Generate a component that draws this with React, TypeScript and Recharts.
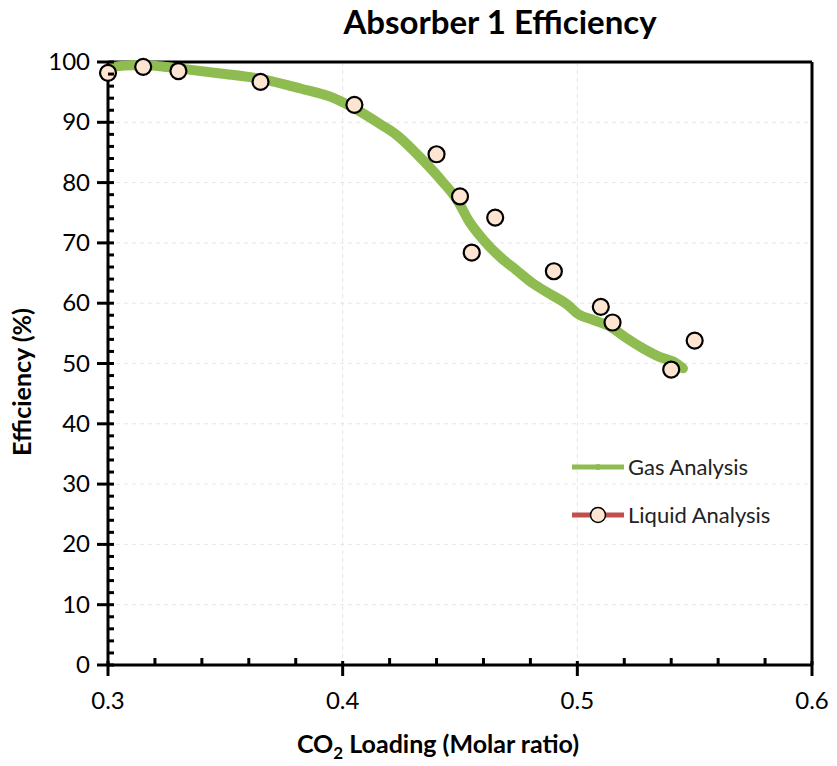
import React from "react";
import {
  ComposedChart,
  Line,
  Scatter,
  XAxis,
  YAxis,
  CartesianGrid,
  ReferenceLine,
} from "recharts";

const gasX = [0.301, 0.307, 0.315, 0.322, 0.331, 0.348, 0.365, 0.382, 0.395, 0.405, 0.416, 0.423, 0.432, 0.442, 0.449, 0.454, 0.46, 0.467, 0.474, 0.481, 0.488, 0.496, 0.5, 0.507, 0.514, 0.521, 0.528, 0.535, 0.541, 0.545];
const gasY = [99.1, 99.4, 99.5, 99.3, 98.9, 98.1, 97.2, 95.6, 94.2, 92.3, 89.7, 87.9, 84.6, 80.4, 77.0, 73.5, 70.5, 67.7, 65.5, 63.3, 61.6, 59.7, 58.3, 57.2, 56.1, 54.2, 52.5, 51.1, 50.3, 49.2];

const liquidX = [0.3, 0.315, 0.33, 0.365, 0.405, 0.44, 0.45, 0.455, 0.465, 0.49, 0.51, 0.515, 0.54, 0.55];
const liquidY = [98.2, 99.2, 98.5, 96.7, 92.9, 84.7, 77.7, 68.4, 74.2, 65.3, 59.4, 56.8, 49.0, 53.8];

const xMajor = [0.3, 0.4, 0.5, 0.6];
const xTicks = [0.3, 0.32, 0.34, 0.36, 0.38, 0.4, 0.42, 0.44, 0.46, 0.48, 0.5, 0.52, 0.54, 0.56, 0.58, 0.6];
const yMajor = [0, 10, 20, 30, 40, 50, 60, 70, 80, 90, 100];
const yTicks = Array.from({ length: 51 }, (_, i) => i * 2);

const gasData = gasX.map((x, i) => ({ x, y: gasY[i] }));
const liquidData = liquidX.map((x, i) => ({ x, y: liquidY[i] }));

const FONT = "Lato, 'Open Sans', sans-serif";
const GREEN = "#8FBC50";
const RED = "#C0504D";
const PEACH = "#FDE5D2";

const isMajor = (v: number, arr: number[]) => arr.some((m) => Math.abs(m - v) < 1e-6);

const XTick = (props: any) => {
  const { x, y, payload } = props;
  const v = payload.value;
  const major = isMajor(v, xMajor);
  return (
    <g>
      {major ? (
        <line x1={x} x2={x} y1={y - 4} y2={y + 11} stroke="#000" strokeWidth={3} />
      ) : (
        <line x1={x} x2={x} y1={y - 7} y2={y} stroke="#000" strokeWidth={3} />
      )}
      {major && (
        <text x={x} y={y + 44} textAnchor="middle" fontFamily={FONT} fontSize={24} fill="#000">
          {v.toFixed(1)}
        </text>
      )}
    </g>
  );
};

const YTick = (props: any) => {
  const { x, y, payload } = props;
  const v = payload.value;
  const major = isMajor(v, yMajor);
  return (
    <g>
      {major ? (
        <line x1={x - 11} x2={x + 6} y1={y} y2={y} stroke="#000" strokeWidth={3} />
      ) : (
        <line x1={x} x2={x + 6} y1={y} y2={y} stroke="#000" strokeWidth={3} />
      )}
      {major && (
        <text x={x - 18} y={y + 8} textAnchor="end" fontFamily={FONT} fontSize={24} fill="#000">
          {v}
        </text>
      )}
    </g>
  );
};

const XTitle = (props: any) => {
  const vb = props.viewBox || {};
  const cx = (vb.x ?? 108) + (vb.width ?? 704) / 2 - 22;
  return (
    <text x={cx} y={753} textAnchor="middle" fontFamily={FONT} fontSize={25} fontWeight="bold" fill="#000">
      CO
      <tspan fontSize={17} dy={6}>2</tspan>
      <tspan dy={-6}> Loading (Molar ratio)</tspan>
    </text>
  );
};

const YTitle = () => (
  <text
    x={31}
    y={382}
    transform="rotate(-90 31 382)"
    textAnchor="middle"
    fontFamily={FONT}
    fontSize={25}
    fontWeight="bold"
    fill="#000"
  >
    Efficiency (%)
  </text>
);

const LiquidDot = (props: any) => {
  const { cx, cy } = props;
  if (cx == null || cy == null) return null;
  return <circle cx={cx} cy={cy} r={8} fill={PEACH} stroke="#000" strokeWidth={2.2} />;
};

export default function App() {
  return (
    <div style={{ position: "absolute", left: 0, top: 0, width: 837, height: 766, background: "#fff" }}>
      <div
        style={{
          position: "absolute",
          left: 0,
          top: 1,
          width: 1000,
          textAlign: "center",
          fontFamily: FONT,
          fontWeight: "bold",
          fontSize: 33,
          color: "#000",
          zIndex: 2,
        }}
      >
        Absorber 1 Efficiency
      </div>
      <ComposedChart
        width={837}
        height={766}
        margin={{ top: 62, right: 25, bottom: 0, left: 0 }}
        style={{ fontFamily: FONT }}
      >
        <CartesianGrid
          stroke="#e6e6e6"
          strokeDasharray="4 4"
          horizontalValues={[10, 20, 30, 40, 50, 60, 70, 80, 90]}
          verticalValues={[0.4, 0.5]}
        />
        <XAxis
          type="number"
          dataKey="x"
          domain={[0.3, 0.6]}
          ticks={xTicks}
          interval={0}
          height={101}
          tickLine={false}
          tickSize={0}
          tickMargin={0}
          axisLine={{ stroke: "#000", strokeWidth: 3 }}
          tick={<XTick />}
          label={<XTitle />}
        />
        <YAxis
          type="number"
          dataKey="y"
          domain={[0, 100]}
          ticks={yTicks}
          interval={0}
          width={108}
          tickLine={false}
          tickSize={0}
          tickMargin={0}
          axisLine={{ stroke: "#000", strokeWidth: 3 }}
          tick={<YTick />}
          label={<YTitle />}
        />
        <ReferenceLine y={100} stroke="#000" strokeWidth={3} />
        <ReferenceLine x={0.6} stroke="#000" strokeWidth={3} />
        <Line
          name="Gas Analysis"
          data={gasData}
          dataKey="y"
          type="monotone"
          stroke={GREEN}
          strokeWidth={10}
          dot={false}
          strokeLinecap="round"
          isAnimationActive={false}
        />
        <Scatter
          name="Liquid Analysis"
          data={liquidData}
          dataKey="y"
          fill={PEACH}
          shape={<LiquidDot />}
          isAnimationActive={false}
        />
      </ComposedChart>
      <div style={{ position: "absolute", left: 570, top: 450, width: 260, height: 80 }}>
        <svg width={260} height={80}>
          <g>
            <line x1={2} x2={54} y1={17} y2={17} stroke={GREEN} strokeWidth={5} />
            <circle cx={28} cy={17} r={3} fill={GREEN} />
            <text x={58} y={25} fontFamily={FONT} fontSize={22} fill="#222">
              Gas Analysis
            </text>
          </g>
          <g>
            <line x1={2} x2={54} y1={65} y2={65} stroke={RED} strokeWidth={5} />
            <circle cx={28} cy={65} r={7.5} fill={PEACH} stroke="#000" strokeWidth={1.5} />
            <text x={58} y={73} fontFamily={FONT} fontSize={22} fill="#222">
              Liquid Analysis
            </text>
          </g>
        </svg>
      </div>
    </div>
  );
}
